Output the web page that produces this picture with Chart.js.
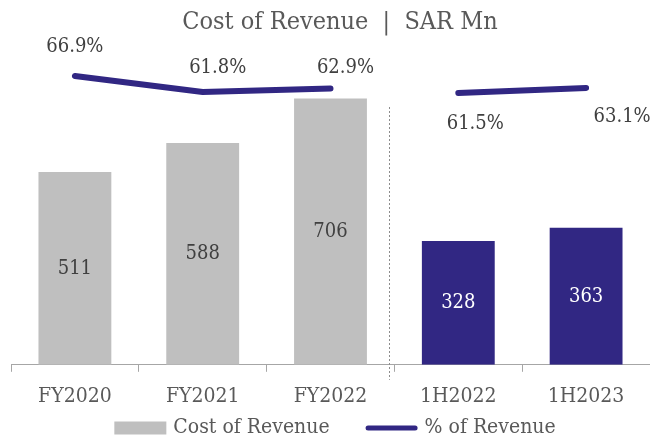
<!DOCTYPE html>
<html><head><meta charset="utf-8">
<script src="https://cdn.jsdelivr.net/npm/chart.js@4"></script>
<style>html,body{margin:0;padding:0;background:#fff;}</style>
</head><body>
<canvas id="c" width="650" height="438" style="width:650px;height:438px;display:block"></canvas>
<script>
const categories = ['FY2020', 'FY2021', 'FY2022', '1H2022', '1H2023'];
const costOfRevenue = [511, 588, 706, 328, 363];
const pctOfRevenue = [66.9, 61.8, 62.9, 61.5, 63.1];
const pctLabels = ['66.9%', '61.8%', '62.9%', '61.5%', '63.1%'];
const chartTitle = 'Cost of Revenue  |  SAR Mn';
const seriesNames = ['Cost of Revenue', '% of Revenue'];

const GRAY = '#BFBFBF', NAVY = '#312783', TXT = '#595959', DARK = '#404040';
const FONT = "'DejaVu Serif Condensed', 'DejaVu Serif', serif";
const barColors = categories.map(c => c.startsWith('FY') ? GRAY : NAVY);
const pctDx = [0, 15, 15, 17, 36];
const pctDy = [-29, -24, -21, 31, 29];

const annot = {
  id: 'annot',
  afterDatasetsDraw(chart) {
    const ctx = chart.ctx, xs = chart.scales.x, area = chart.chartArea;
    ctx.save();
    // period separator
    const sx = Math.round((xs.getPixelForValue(2) + xs.getPixelForValue(3)) / 2 - 5) + 0.5;
    ctx.strokeStyle = '#8C8C8C'; ctx.lineWidth = 1; ctx.setLineDash([2, 2]);
    ctx.beginPath(); ctx.moveTo(sx, area.top + 44); ctx.lineTo(sx, area.bottom + 15); ctx.stroke();
    ctx.setLineDash([]);
    // bar value labels
    ctx.textAlign = 'center'; ctx.textBaseline = 'middle';
    ctx.font = "20px " + FONT;
    chart.getDatasetMeta(0).data.forEach((el, i) => {
      ctx.fillStyle = barColors[i] === NAVY ? '#FFFFFF' : DARK;
      ctx.fillText(String(costOfRevenue[i]), el.x, (el.y + el.base) / 2);
    });
    // % labels
    ctx.fillStyle = DARK;
    chart.getDatasetMeta(1).data.forEach((el, i) => {
      ctx.fillText(pctLabels[i], el.x + pctDx[i], el.y + pctDy[i]);
    });
    // title
    ctx.font = "25px " + FONT; ctx.fillStyle = TXT;
    ctx.fillText(chartTitle, 340, 22);
    // legend
    ctx.font = "21px " + FONT;
    ctx.textAlign = 'left';
    const w1 = ctx.measureText(seriesNames[0]).width, w2 = ctx.measureText(seriesNames[1]).width;
    const boxW = 52, gap = 7, sep = 36;
    const total = boxW + gap + w1 + sep + boxW + gap + w2;
    let lx = 335 - total / 2;
    const ly = chart.height - 10;
    ctx.fillStyle = GRAY;
    ctx.fillRect(lx, ly - 6.5, boxW, 13);
    ctx.fillStyle = TXT;
    ctx.fillText(seriesNames[0], lx + boxW + gap, ly);
    lx += boxW + gap + w1 + sep;
    ctx.strokeStyle = NAVY; ctx.lineWidth = 5; ctx.lineCap = 'round';
    ctx.beginPath(); ctx.moveTo(lx + 2.5, ly); ctx.lineTo(lx + boxW - 2.5, ly); ctx.stroke();
    ctx.fillText(seriesNames[1], lx + boxW + gap, ly);
    ctx.restore();
  }
};

new Chart(document.getElementById('c'), {
  data: {
    labels: categories,
    datasets: [
      { type: 'bar', label: seriesNames[0], data: costOfRevenue, backgroundColor: barColors,
        yAxisID: 'y', barPercentage: 0.57, categoryPercentage: 1, order: 1 },
      { type: 'line', label: seriesNames[1], data: pctOfRevenue, yAxisID: 'yp',
        borderColor: NAVY, borderWidth: 6, borderCapStyle: 'round', borderJoinStyle: 'round',
        pointRadius: 0, fill: false, tension: 0, order: 0,
        segment: { borderColor: c => c.p0DataIndex === 2 ? 'rgba(0,0,0,0)' : NAVY } }
    ]
  },
  options: {
    responsive: false, animation: false,
    layout: { padding: { top: 63, left: 11, right: 0, bottom: 17 } },
    plugins: {
      tooltip: { enabled: false },
      title: { display: false },
      legend: { display: false }
    },
    scales: {
      x: {
        grid: { offset: true, drawOnChartArea: false, tickLength: 7, color: '#A6A6A6' },
        border: { display: true, color: '#A6A6A6' },
        ticks: { color: TXT, font: { family: FONT, size: 21 }, padding: 12, maxRotation: 0 }
      },
      y: { display: false, min: 0, max: 800 },
      yp: { display: false, min: -24.6, max: 71.0 }
    }
  },
  plugins: [annot]
});
</script>
</body></html>
